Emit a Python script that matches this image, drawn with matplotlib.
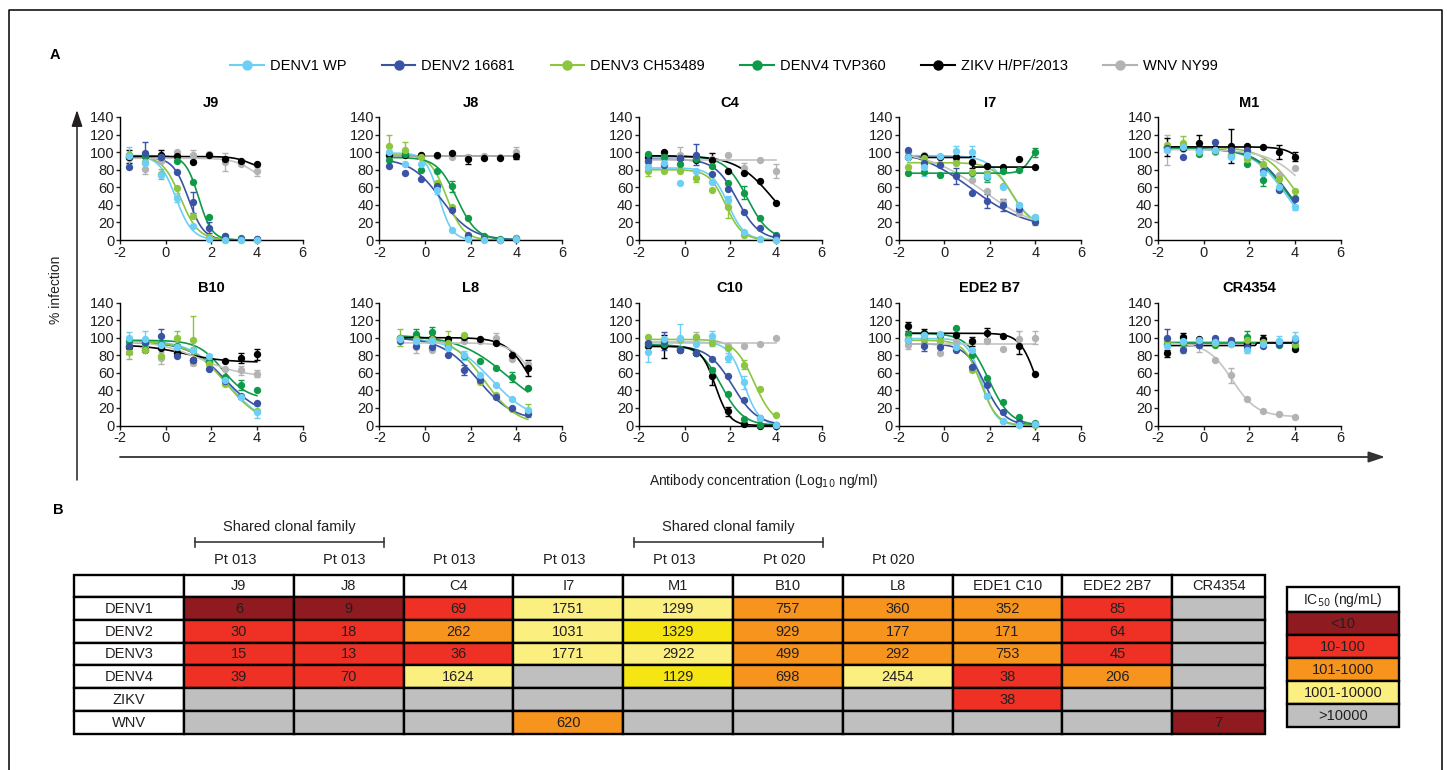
import numpy as np
import matplotlib
matplotlib.use("Agg")
import matplotlib.pyplot as plt
from matplotlib.patches import Rectangle
from matplotlib.lines import Line2D

plt.rcParams['font.family'] = ['Liberation Sans', 'DejaVu Sans']
plt.rcParams['axes.unicode_minus'] = False

viruses = ["DENV1 WP", "DENV2 16681", "DENV3 CH53489", "DENV4 TVP360", "ZIKV H/PF/2013", "WNV NY99"]
colors = ["#6dcff6", "#3a53a4", "#8cc63f", "#0f9a4a", "#000000", "#b3b3b3"]
curve_colors = ["#6dcff6", "#3a53a4", "#8cc63f", "#0f9a4a", "#000000", "#c4c4c4"]

# log10 ng/ml, 5-fold dilutions
dose = [-1.59, -0.89, -0.19, 0.51, 1.20, 1.90, 2.60, 3.30, 4.00]
dose_l8 = [-1.09, -0.39, 0.31, 1.00, 1.70, 2.40, 3.10, 3.80, 4.50]

# % infection, rows = DENV1, DENV2, DENV3, DENV4, ZIKV, WNV
J9 = [[96, 88, 74, 48, 16, 1, 0, 0, 0],
      [83, 99, 95, 77, 43, 14, 4, 1, 1],
      [97, 89, 75, 59, 27, 3, 0, 0, 0],
      [97, 96, 94, 90, 66, 26, 5, 2, 1],
      [95, 96, 97, 96, 89, 97, 92, 90, 87],
      [93, 81, 90, 100, 97, 98, 89, 87, 78]]
J8 = [[100, 87, 87, 57, 11, 1, 0, 0, 1],
      [84, 76, 69, 61, 34, 6, 1, 0, 1],
      [107, 103, 95, 65, 37, 4, 1, 0, 2],
      [91, 98, 80, 79, 61, 25, 4, 1, 2],
      [97, 97, 97, 97, 99, 92, 93, 93, 96],
      [97, 97, 97, 96, 95, 95, 96, 95, 100]]
C4 = [[83, 88, 65, 79, 66, 46, 9, 1, 0],
      [90, 85, 93, 97, 75, 58, 32, 14, 4],
      [79, 78, 79, 71, 57, 37, 6, 1, 0],
      [98, 95, 86, 92, 84, 65, 54, 25, 6],
      [95, 100, 93, 91, 91, 78, 76, 67, 42],
      [89, 95, 97, 93, 92, 97, 82, 91, 79]]
I7 = [[95, 83, 96, 101, 100, 73, 60, 40, 26],
      [102, 88, 85, 73, 54, 44, 40, 35, 21],
      [83, 93, 86, 88, 77, 75, 62, 40, 22],
      [76, 77, 74, 74, 76, 72, 78, 80, 100],
      [95, 96, 94, 95, 89, 84, 83, 92, 83],
      [100, 97, 95, 91, 68, 56, 43, 31, 26]]
M1 = [[103, 106, 101, 103, 94, 97, 76, 60, 37],
      [105, 95, 103, 112, 102, 103, 79, 57, 47],
      [108, 110, 100, 102, 96, 92, 86, 70, 56],
      [106, 107, 98, 101, 96, 86, 68, 58, 48],
      [106, 105, 110, 105, 107, 107, 106, 100, 95],
      [102, 104, 102, 100, 97, 95, 85, 74, 82]]
B10 = [[100, 98, 92, 89, 86, 79, 52, 33, 15],
       [90, 95, 102, 79, 75, 64, 51, 34, 26],
       [84, 86, 79, 100, 97, 70, 47, 32, 17],
       [96, 94, 93, 90, 86, 73, 55, 46, 40],
       [89, 86, 88, 83, 74, 72, 73, 77, 81],
       [93, 88, 77, 85, 71, 73, 64, 63, 59]]
L8 = [[99, 96, 96, 88, 80, 57, 46, 30, 18],
      [96, 90, 89, 80, 63, 52, 33, 20, 13],
      [100, 98, 99, 94, 103, 50, 35, 19, 17],
      [100, 104, 106, 91, 79, 73, 65, 55, 43],
      [100, 102, 100, 98, 101, 98, 94, 80, 65],
      [97, 89, 86, 90, 96, 96, 100, 76, 70]]
C10 = [[84, 98, 100, 93, 102, 77, 49, 8, 1],
       [94, 96, 86, 83, 76, 56, 29, 8, 1],
       [101, 99, 99, 101, 94, 88, 69, 41, 12],
       [93, 93, 87, 83, 63, 36, 7, 1, 1],
       [90, 90, 86, 82, 56, 16, 2, 0, 0],
       [94, 95, 97, 101, 96, 91, 90, 93, 100]]
B7 = [[97, 103, 104, 89, 86, 34, 5, 1, 2],
      [97, 90, 89, 86, 67, 46, 15, 4, 2],
      [99, 98, 96, 88, 63, 34, 5, 2, 1],
      [104, 103, 103, 111, 80, 54, 27, 10, 3],
      [113, 105, 103, 103, 96, 105, 102, 90, 59],
      [92, 99, 83, 95, 96, 96, 87, 99, 100]]
CR = [[90, 96, 97, 95, 93, 86, 93, 96, 100],
      [100, 86, 92, 100, 97, 89, 91, 93, 97],
      [96, 95, 93, 94, 93, 97, 95, 96, 93],
      [93, 94, 92, 92, 94, 101, 94, 92, 92],
      [82, 101, 98, 96, 95, 93, 98, 94, 87],
      [93, 88, 92, 74, 57, 30, 17, 13, 10]]

# fitted curves: (left plateau, right plateau, log IC50, slope)
J9_fit = [(96, 0, 0.45, 1.2), (94, 0, 1.0, 1.3), (96, 0, 0.65, 1.1),
          (96, 0, 1.45, 1.5), (95, 80, 3.7, 1.2), (93, 65, 3.8, 1.0)]
J8_fit = [(99, 0, 0.6, 1.5), (93, 0, 0.7, 0.65), (97, 0, 0.95, 1.2),
          (94, 0, 1.4, 1.0), (96, 96, 2, 1), (96, 96, 2, 1)]
C4_fit = [(82, 0, 1.9, 1.2), (92, 0, 2.3, 0.9), (80, 0, 1.8, 1.2),
          (95, 0, 2.75, 0.9), (96, 0, 3.85, 0.55), (91, 91, 2, 1)]
I7_fit = [(96, 15, 2.9, 0.9), (105, 12, 1.2, 0.35), (88, 15, 3.0, 1.0),
          (76, 110, 3.8, 2.0), (94, 83, 1.25, 30), (102, 10, 1.7, 0.35)]
M1_fit = [(104, 0, 3.6, 0.6), (104, 0, 3.75, 0.6), (106, 0, 4.1, 0.6),
          (104, 0, 3.7, 0.6), (106, 0, 5.0, 1.0), (103, 0, 4.8, 0.5)]
B10_fit = [(97, 0, 2.7, 0.55), (95, 10, 2.6, 0.55), (96, 0, 2.65, 0.55),
           (97, 30, 2.5, 0.8), (92, 72, 0.8, 0.5), (97, 55, 1.5, 0.45)]
L8_fit = [(100, 5, 2.9, 0.5), (100, 5, 2.3, 0.55), (102, 0, 2.6, 0.6),
          (103, 10, 3.6, 0.4), (100, 0, 4.7, 0.8), (94, 0, 4.9, 0.9)]
C10_fit = [(95, 0, 2.6, 1.3), (91, 0, 2.1, 0.8), (98, 0, 3.05, 1.0),
           (92, 0, 1.6, 0.9), (90, 0, 1.35, 1.4), (94, 94, 2, 1)]
B7_fit = [(99, 0, 1.65, 1.4), (93, 0, 1.8, 1.0), (97, 0, 1.6, 1.2),
          (105, 0, 1.95, 0.9), (105, 0, 4.05, 1.2), (93, 93, 2, 1)]
CR_fit = [(95, 95, 2, 1), (94, 94, 2, 1), (94, 94, 2, 1),
          (94, 94, 2, 1), (91, 94, 2.3, 30), (94, 10, 1.25, 0.8)]

# error bars: (virus, dilution, sd)
J9_err = [(0, 0, 10), (1, 1, 12), (1, 4, 12), (1, 5, 6), (2, 2, 6), (4, 0, 7),
          (4, 2, 6), (5, 1, 6), (5, 4, 6), (5, 6, 10), (5, 8, 5), (0, 3, 5)]
J8_err = [(2, 0, 13), (2, 1, 8), (4, 5, 5), (4, 8, 4), (5, 8, 6), (3, 4, 6), (0, 3, 5)]
C4_err = [(0, 0, 6), (1, 1, 7), (1, 3, 12), (2, 0, 6), (2, 3, 5), (2, 5, 12),
          (3, 6, 7), (4, 4, 8), (5, 2, 9), (5, 6, 6), (5, 8, 8), (0, 5, 4)]
I7_err = [(0, 1, 10), (0, 3, 6), (0, 4, 7), (0, 5, 6), (1, 3, 9), (1, 5, 8),
          (1, 6, 7), (2, 8, 5), (3, 5, 6), (3, 8, 5), (4, 4, 7)]
M1_err = [(5, 0, 17), (2, 1, 8), (4, 2, 9), (4, 4, 19), (4, 7, 8), (4, 8, 5),
          (3, 6, 6), (5, 6, 7), (0, 8, 3), (4, 0, 10)]
B10_err = [(0, 0, 6), (0, 1, 9), (0, 6, 5), (0, 8, 7), (1, 2, 8), (2, 0, 8), (2, 3, 8),
           (2, 4, 28), (3, 7, 6), (4, 0, 8), (4, 7, 6), (4, 8, 6), (5, 2, 7), (5, 7, 5), (5, 8, 4)]
L8_err = [(2, 0, 10), (2, 3, 13), (3, 1, 6), (3, 2, 6), (3, 7, 6), (4, 8, 9),
          (5, 1, 6), (5, 6, 5), (1, 4, 6), (0, 4, 5), (2, 8, 7)]
C10_err = [(0, 0, 12), (0, 2, 15), (0, 5, 5), (0, 6, 7), (1, 1, 10), (2, 6, 5),
           (4, 1, 13), (4, 4, 10), (4, 5, 5), (5, 3, 5), (5, 4, 5), (0, 4, 5)]
B7_err = [(4, 0, 5), (4, 1, 5), (4, 4, 5), (4, 5, 6), (4, 7, 9), (1, 1, 5),
          (5, 0, 5), (5, 7, 8), (5, 8, 7)]
CR_err = [(1, 0, 10), (4, 0, 4), (4, 1, 4), (5, 1, 6), (5, 2, 8), (5, 4, 9),
          (3, 5, 6), (0, 7, 6), (0, 8, 6), (4, 6, 5), (0, 5, 4)]

panel_names = ["J9", "J8", "C4", "I7", "M1", "B10", "L8", "C10", "EDE2 B7", "CR4354"]
panel_y = [J9, J8, C4, I7, M1, B10, L8, C10, B7, CR]
panel_fit = [J9_fit, J8_fit, C4_fit, I7_fit, M1_fit, B10_fit, L8_fit, C10_fit, B7_fit, CR_fit]
panel_err = [J9_err, J8_err, C4_err, I7_err, M1_err, B10_err, L8_err, C10_err, B7_err, CR_err]
panel_x = [dose, dose, dose, dose, dose, dose, dose_l8, dose, dose, dose]

# table B
table_cols = ["J9", "J8", "C4", "I7", "M1", "B10", "L8", "EDE1 C10", "EDE2 2B7", "CR4354"]
patients = ["Pt 013", "Pt 013", "Pt 013", "Pt 013", "Pt 013", "Pt 020", "Pt 020", "", "", ""]
table_rows = ["DENV1", "DENV2", "DENV3", "DENV4", "ZIKV", "WNV"]
ic50 = [[6, 9, 69, 1751, 1299, 757, 360, 352, 85, None],
        [30, 18, 262, 1031, 1329, 929, 177, 171, 64, None],
        [15, 13, 36, 1771, 2922, 499, 292, 753, 45, None],
        [39, 70, 1624, None, 1129, 698, 2454, 38, 206, None],
        [None, None, None, None, None, None, None, 38, None, None],
        [None, None, None, 620, None, None, None, None, None, 7]]
clonal_groups = [(0, 1), (4, 5)]
bins = ["<10", "10-100", "101-1000", "1001-10000", ">10000"]
bin_colors = ["#8f1a1f", "#ee3124", "#f7941d", "#fbf07f", "#bfbfbf"]
bright_cells = [(1, 4), (3, 4)]
bright_yellow = "#f4e513"


def logistic(x, p):
    left, right, mid, h = p
    return right + (left - right) / (1 + 10 ** ((x - mid) * h))


def bin_of(v):
    if v is None:
        return 4
    if v < 10:
        return 0
    if v <= 100:
        return 1
    if v <= 1000:
        return 2
    return 3


W, H = 1447, 770
fig = plt.figure(figsize=(W / 100, H / 100), dpi=100)

bg = fig.add_axes([0, 0, 1, 1])
bg.set_xlim(0, W)
bg.set_ylim(H, 0)
bg.axis('off')
bg.set_zorder(-1)

# frame
bg.plot([9, 9, 1442, 1442], [772, 10, 10, 772], color='k', lw=1.1, clip_on=False)

bg.text(55, 55, "A", fontsize=10.5, fontweight='bold', ha='center', va='center')
bg.text(58, 510, "B", fontsize=10.5, fontweight='bold', ha='center', va='center')

# big axis arrows
bg.annotate('', xy=(77, 110), xytext=(77, 480),
            arrowprops=dict(arrowstyle='-|>,head_length=0.9,head_width=0.3',
                            color='#231f20', lw=1.1, mutation_scale=11, shrinkA=0, shrinkB=0))
bg.annotate('', xy=(1385, 457), xytext=(120, 457),
            arrowprops=dict(arrowstyle='-|>,head_length=0.9,head_width=0.3',
                            color='#333333', lw=1.3, mutation_scale=11, shrinkA=0, shrinkB=0))
bg.text(56, 290, "% infection", rotation=90, fontsize=10, ha='center', va='center', color='#231f20')
bg.text(764, 481, r"Antibody concentration (Log$_{10}$ ng/ml)", fontsize=10,
        ha='center', va='center', color='#231f20')

# panels
col_left = [120, 379.5, 639, 898.5, 1158]
row_top = [117, 302.5]
pw, ph = 182.5, 123
for i, name in enumerate(panel_names):
    r, c = divmod(i, 5)
    ax = fig.add_axes([col_left[c] / W, 1 - (row_top[r] + ph) / H, pw / W, ph / H])
    ax.set_facecolor('none')
    x = np.array(panel_x[i])
    xs = np.linspace(x[0], x[-1], 300)
    for k in range(5, -1, -1):
        ax.plot(xs, logistic(xs, panel_fit[i][k]), color=curve_colors[k], lw=1.2, zorder=2 + k * 0.01)
    for k in range(5, -1, -1):
        for (v, j, e) in panel_err[i]:
            if v == k:
                ax.errorbar(x[j], panel_y[i][k][j], yerr=e, fmt='none', ecolor=colors[k],
                            elinewidth=1, capsize=2.5, capthick=1, zorder=3, clip_on=False)
        ax.plot(x, panel_y[i][k], 'o', color=colors[k], ms=5.3, mew=0, zorder=4, clip_on=False)
    ax.set_xlim(-2, 6)
    ax.set_ylim(0, 140)
    ax.set_xticks([-2, 0, 2, 4, 6])
    ax.set_yticks(range(0, 141, 20))
    for s in ['top', 'right']:
        ax.spines[s].set_visible(False)
    for s in ['left', 'bottom']:
        ax.spines[s].set_linewidth(1.0)
    ax.tick_params(length=3, width=1, labelsize=10.5, pad=1, colors='#231f20')
    ax.text(0.5, 1.115, name, transform=ax.transAxes, ha='center', va='center',
            fontsize=10.5, fontweight='bold')

handles = [Line2D([], [], color=c, marker='o', ms=7.5, mew=0, lw=1.5) for c in colors]
fig.legend(handles, viruses, loc='center', bbox_to_anchor=(724 / W, 1 - 66 / H), ncol=6,
           frameon=False, fontsize=10.5, handlelength=2.3, handletextpad=0.4, columnspacing=2.45)

# table
tab_left, tab_top = 74, 575
widths = [110] + [109.8] * 9 + [93]
edges = np.concatenate([[tab_left], tab_left + np.cumsum(widths)])
head_h, row_h = 22, 22.8
tc = '#231f20'
lw_tab = 1.7


def cell(x0, y0, w, h, fc, txt, fs=10.5):
    bg.add_patch(Rectangle((x0, y0), w, h, facecolor=fc, edgecolor='k', lw=lw_tab))
    if txt != "":
        bg.text(x0 + w / 2, y0 + h / 2 + 0.5, txt, ha='center', va='center', fontsize=fs, color=tc)


cell(edges[0], tab_top, widths[0], head_h, 'white', "")
for c, name in enumerate(table_cols):
    cell(edges[c + 1], tab_top, widths[c + 1], head_h, 'white', name)
    if patients[c]:
        bg.text((edges[c + 1] + edges[c + 2]) / 2 - 4, 560, patients[c], ha='center', va='center',
                fontsize=10.5, color=tc)
for r, rname in enumerate(table_rows):
    y0 = tab_top + head_h + r * row_h
    cell(edges[0], y0, widths[0], row_h, 'white', rname)
    for c, v in enumerate(ic50[r]):
        fc = bin_colors[bin_of(v)]
        if (r, c) in bright_cells:
            fc = bright_yellow
        cell(edges[c + 1], y0, widths[c + 1], row_h, fc, "" if v is None else str(v))

for a, b in clonal_groups:
    x0, x1 = edges[a + 1] + 11, edges[b + 2] - 20
    bg.plot([x0, x1], [542, 542], color='#3a3a3a', lw=1.2)
    bg.plot([x0, x0], [537.5, 546.5], color='#3a3a3a', lw=1.2)
    bg.plot([x1, x1], [537.5, 546.5], color='#3a3a3a', lw=1.2)
    bg.text((x0 + x1) / 2, 527, "Shared clonal family", ha='center', va='center', fontsize=10.5, color=tc)

# IC50 key
kx, kw = 1287, 112
cell(kx, 587, kw, 25, 'white', r"IC$_{50}$ (ng/mL)", fs=10)
for k, lab in enumerate(bins):
    cell(kx, 612 + k * 23, kw, 23, bin_colors[k], lab)

fig.savefig("out.png", dpi=100)
